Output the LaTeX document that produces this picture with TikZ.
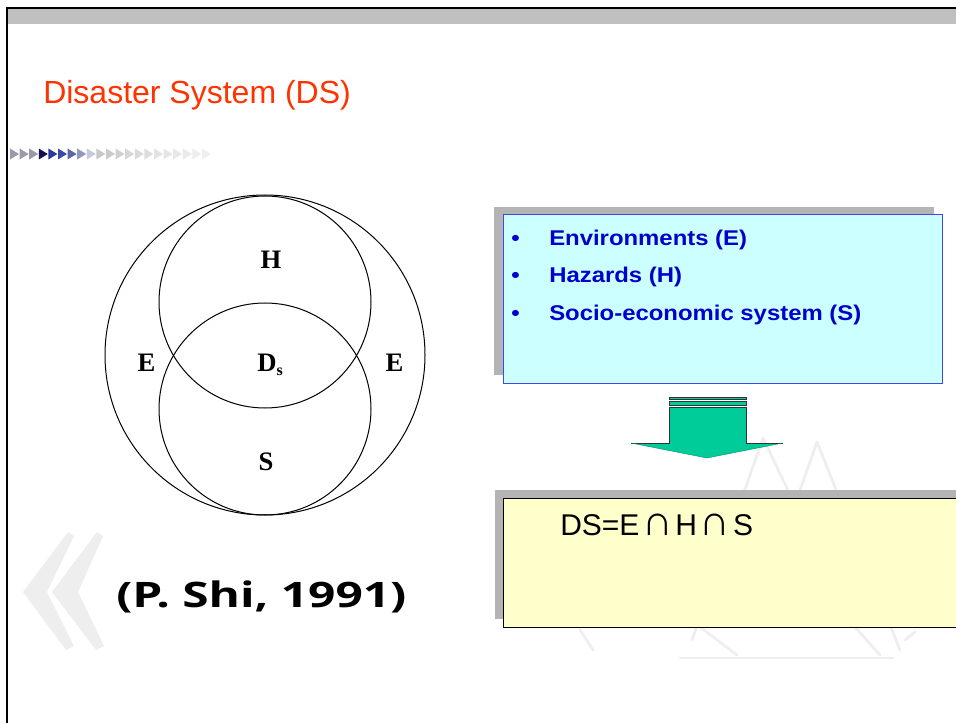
\documentclass[tikz,border=0pt]{standalone}
\usepackage{fontspec}
\usepackage{graphicx}
\setmainfont{Liberation Sans}
\newfontfamily\serifbf{Liberation Serif Bold}
\newfontfamily\boxfont[FakeStretch=1.12]{Liberation Sans Bold}
\newfontfamily\shifont{Open Sans Bold}
\newfontfamily\symfont{DejaVu Sans}
\definecolor{titlered}{HTML}{FF3300}
\definecolor{itemblue}{HTML}{0000CC}
\definecolor{boxcyan}{HTML}{CCFFFF}
\definecolor{boxblueline}{HTML}{4444EE}
\definecolor{boxyellow}{HTML}{FFFFCC}
\definecolor{shadowgray}{HTML}{B4B4B4}
\definecolor{arrowgreen}{HTML}{00CC99}
\definecolor{bandgray}{HTML}{C0C0C0}
\definecolor{wmgray}{HTML}{EEEEEE}
\tikzset{
  venn/.style={circle,draw=black,line width=0.75pt,inner sep=0pt,outer sep=0pt},
  vennlabel/.style={font=\serifbf\fontsize{20}{23}\selectfont,inner sep=0pt,anchor=base},
  itemtext/.style={font=\boxfont\fontsize{16}{19}\selectfont,text=itemblue,inner sep=0pt,anchor=base west},
  wm/.style={draw=wmgray,line width=2pt,line cap=round},
}
\newcommand{\capsym}{{\fontsize{32}{34}\selectfont ∩}}
\begin{document}
\begin{tikzpicture}[x=0.75pt,y=-0.75pt]
\useasboundingbox (0,0) rectangle (956,723);
\fill[white] (0,0) rectangle (956,723);
% frame
\fill[bandgray] (7,9) rectangle (956,24);
\draw[black,line width=1.5pt] (7,723) -- (7,8) -- (956,8);
% arrow strip decoration
\foreach \i/\c in {0/9A9AAA,1/9A9AAA,2/9A9AAA,3/101050,4/2A3A9A,5/3A4AAA,6/5868A8,7/9098C0,8/C4C8E0,9/C8C8CC,10/CACACC,11/D0D0D0,12/D6D6D6,13/DADADA,14/DEDEDE,15/E2E2E2,16/E6E6E6,17/E8E8E8,18/EAEAEA,19/EEEEEE,20/F0F0F0}{
  \definecolor{stripcol}{HTML}{\c}
  \fill[stripcol] ({10+\i*9.6},148.5) -- ({19+\i*9.6},154) -- ({10+\i*9.6},159.5) -- cycle;
}
% left chevrons watermark
\fill[wmgray] (68,532) -- (23,592) -- (66,650) -- (74,646) -- (47,592) -- (74,536) -- cycle;
\fill[wmgray] (97,532) -- (52,592) -- (96,650) -- (104,646) -- (78,592) -- (103,536) -- cycle;
% mountain watermark
\draw[wm] (680,658) -- (893,658);
\draw[wm] (763,438) -- (692,640);
\draw[wm] (763,438) -- (795,505);
\draw[wm] (817,442) -- (800,490);
\draw[wm] (817,442) -- (900,650);
\draw[wm] (580,630) -- (593,650);
\draw[wm] (700,627) -- (737,655);
\draw[wm] (855,627) -- (880,655);
\draw[wm] (905,640) -- (915,632);
% title
\node[anchor=base west,inner sep=0pt,text=titlered,font=\fontsize{24}{28}\selectfont] (title) at (43,104) {Disaster System (DS)};
% Venn diagram
\node[venn,minimum size=240pt] (Ecirc) at (265,355) {};
\node[venn,minimum size=159pt] (Hcirc) at (265,302) {};
\node[venn,minimum size=159pt] (Scirc) at (265,409) {};
\node[vennlabel] (Hlab) at (271,269) {H};
\node[vennlabel] (Slab) at (266,470) {S};
\node[vennlabel] (Elab1) at (146.5,372) {E};
\node[vennlabel] (Elab2) at (394.5,372) {E};
\node[vennlabel,anchor=base west] (Dslab) at (257,372) {D\raisebox{-2.5pt}{\fontsize{12}{13}\selectfont s}};
% citation
\node[anchor=base west,inner sep=0pt] (cite) at (116,607) {\resizebox{217.5pt}{20pt}{\shifont (P. Shi, 1991)}};
% blue box
\fill[shadowgray] (494,207) rectangle (934,375);
\node[draw=boxblueline,fill=boxcyan,line width=0.75pt,anchor=north west,minimum width=329.25pt,minimum height=126pt,inner sep=0pt,outer sep=0pt] (bluebox) at (503,215) {};
\node[itemtext] (b1) at (511,246) {•};
\node[itemtext] (b2) at (511,283) {•};
\node[itemtext] (b3) at (511,321) {•};
\node[itemtext] (i1) at (549,246) {Environments (E)};
\node[itemtext] (i2) at (549,283) {Hazards (H)};
\node[itemtext] (i3) at (549,321) {Socio-economic system (S)};
% green arrow
\fill[arrowgreen] (669,397) rectangle (746,399.5);
\fill[arrowgreen] (669,401.5) rectangle (746,405.5);
\fill[arrowgreen] (669,407) -- (746,407) -- (746,443) -- (783,443) -- (707,458) -- (631,443) -- (669,443) -- cycle;
\draw[black!80,line width=0.6pt] (669,397) rectangle (746,399.5);
\draw[black!80,line width=0.6pt] (669,401.5) rectangle (746,405.5);
\draw[black!80,line width=0.6pt] (669,407) -- (746,407);
\draw[black!80,line width=0.75pt] (631,443) -- (669,443) -- (669,407);
\draw[black!80,line width=0.75pt] (783,443) -- (746,443) -- (746,407);
\draw[arrowgreen!70!black,line width=0.3pt] (631,443) -- (707,458) -- (783,443);
% yellow box
\fill[shadowgray] (495,490) rectangle (956,619);
\fill[boxyellow] (503,498) rectangle (960,627);
\draw[black,line width=0.75pt] (960,498) -- (503,498) -- (503,627) -- (960,627);
\node[anchor=base west,inner sep=0pt,font=\fontsize{22.5}{27}\selectfont] (formula) at (560,535) {DS=E\hspace{2pt}\capsym\hspace{2pt}H\hspace{2pt}\capsym\hspace{2pt}S};
\end{tikzpicture}
\end{document}
